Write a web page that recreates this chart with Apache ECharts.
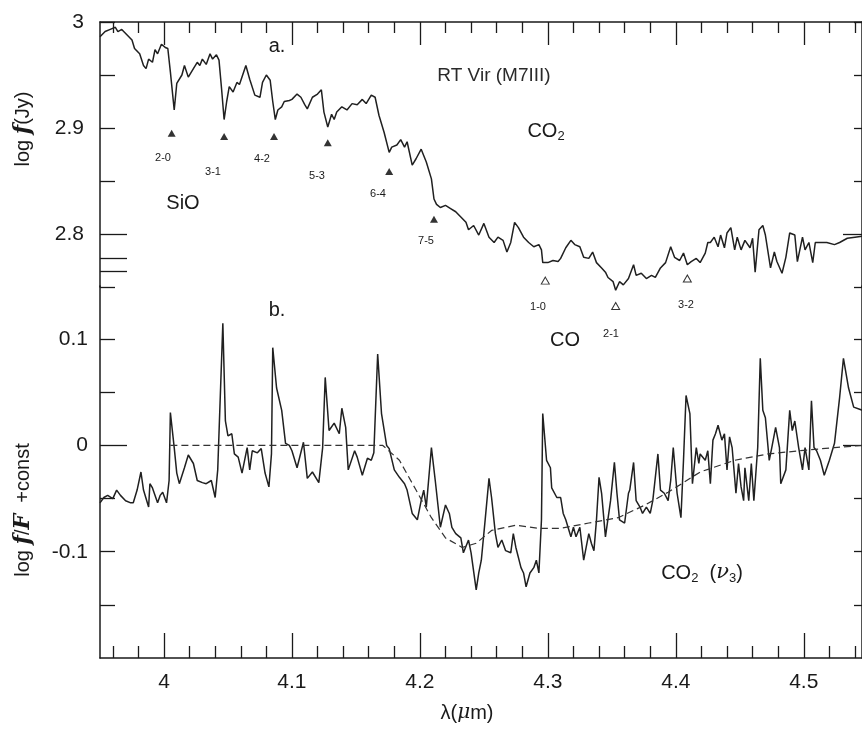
<!DOCTYPE html>
<html>
<head>
<meta charset="utf-8">
<script src="https://cdn.jsdelivr.net/npm/echarts@6/dist/echarts.min.js"></script>
<style>
html, body { margin: 0; padding: 0; background: #fff; }
#chart { width: 862px; height: 729px; }
</style>
</head>
<body>
<div id="chart"></div>
<script>
// panel a: observed spectrum, log f (Jy)
const topWave = [3.950,3.954,3.958,3.962,3.964,3.967,3.971,3.975,3.977,3.981,3.984,3.986,3.988,3.991,3.993,3.995,3.998,4.001,4.003,4.005,
  4.008,4.010,4.014,4.016,4.019,4.023,4.026,4.028,4.030,4.033,4.036,4.038,4.041,4.043,4.045,4.047,4.049,4.051,4.054,4.057,
  4.059,4.064,4.067,4.071,4.075,4.077,4.080,4.083,4.085,4.087,4.089,4.092,4.094,4.098,4.100,4.104,4.107,4.110,4.112,4.116,
  4.120,4.123,4.125,4.128,4.131,4.133,4.135,4.139,4.143,4.147,4.151,4.155,4.158,4.162,4.165,4.168,4.172,4.176,4.178,4.182,
  4.185,4.188,4.190,4.194,4.197,4.201,4.205,4.209,4.211,4.213,4.216,4.220,4.224,4.228,4.232,4.236,4.238,4.242,4.246,4.250,
  4.254,4.258,4.261,4.265,4.268,4.271,4.274,4.277,4.281,4.285,4.289,4.293,4.295,4.296,4.300,4.304,4.308,4.310,4.314,4.318,
  4.321,4.325,4.328,4.332,4.335,4.338,4.342,4.345,4.347,4.351,4.353,4.356,4.359,4.363,4.367,4.369,4.373,4.377,4.381,4.384,
  4.388,4.392,4.396,4.399,4.403,4.406,4.409,4.412,4.416,4.419,4.423,4.425,4.427,4.430,4.433,4.435,4.438,4.440,4.443,4.446,
  4.448,4.451,4.454,4.458,4.460,4.462,4.465,4.468,4.470,4.474,4.477,4.479,4.483,4.486,4.489,4.493,4.495,4.499,4.501,4.504,
  4.507,4.509,4.513,4.518,4.524,4.528,4.534,4.540,4.546];
const topFlux = [2.986,2.991,2.993,2.995,2.991,2.993,2.988,2.983,2.975,2.970,2.959,2.956,2.965,2.962,2.974,2.970,2.979,2.976,2.975,2.953,
  2.917,2.942,2.950,2.959,2.948,2.956,2.962,2.959,2.965,2.960,2.970,2.965,2.969,2.964,2.937,2.908,2.925,2.939,2.934,2.943,
  2.941,2.959,2.946,2.931,2.929,2.943,2.950,2.945,2.925,2.908,2.917,2.920,2.925,2.926,2.927,2.932,2.929,2.922,2.918,2.929,
  2.932,2.936,2.915,2.901,2.913,2.908,2.915,2.920,2.917,2.923,2.922,2.927,2.923,2.931,2.929,2.912,2.896,2.877,2.882,2.884,
  2.889,2.882,2.887,2.865,2.871,2.880,2.868,2.852,2.833,2.828,2.825,2.827,2.824,2.821,2.816,2.811,2.804,2.808,2.799,2.810,
  2.797,2.792,2.797,2.794,2.783,2.792,2.811,2.806,2.797,2.792,2.788,2.790,2.785,2.773,2.773,2.775,2.774,2.777,2.787,2.794,
  2.790,2.788,2.778,2.777,2.783,2.773,2.768,2.764,2.759,2.755,2.747,2.755,2.752,2.758,2.771,2.761,2.763,2.758,2.761,2.759,
  2.768,2.773,2.788,2.778,2.775,2.782,2.771,2.774,2.777,2.773,2.782,2.792,2.792,2.797,2.788,2.799,2.787,2.801,2.806,2.785,
  2.797,2.785,2.794,2.787,2.796,2.764,2.804,2.808,2.799,2.768,2.783,2.774,2.763,2.778,2.801,2.799,2.774,2.797,2.785,2.792,
  2.773,2.792,2.792,2.792,2.790,2.792,2.796,2.797,2.798];

// panel b: log f/F + const
const bottomWave = [3.950,3.953,3.956,3.960,3.963,3.966,3.970,3.974,3.976,3.979,3.982,3.984,3.988,3.989,3.991,3.995,3.997,3.999,4.002,4.004,
  4.005,4.008,4.010,4.012,4.016,4.019,4.023,4.026,4.030,4.033,4.037,4.040,4.042,4.046,4.048,4.050,4.053,4.055,4.058,4.061,
  4.065,4.067,4.069,4.073,4.076,4.079,4.082,4.084,4.085,4.088,4.092,4.095,4.098,4.100,4.104,4.109,4.112,4.116,4.121,4.124,
  4.126,4.129,4.133,4.137,4.139,4.142,4.144,4.149,4.151,4.155,4.159,4.162,4.164,4.167,4.170,4.174,4.176,4.180,4.184,4.188,
  4.190,4.194,4.198,4.201,4.203,4.205,4.209,4.212,4.216,4.220,4.223,4.225,4.228,4.232,4.234,4.238,4.240,4.244,4.246,4.248,
  4.251,4.254,4.256,4.259,4.261,4.264,4.267,4.271,4.273,4.275,4.279,4.281,4.283,4.286,4.289,4.291,4.293,4.295,4.296,4.299,
  4.302,4.303,4.307,4.310,4.312,4.314,4.318,4.320,4.322,4.325,4.328,4.332,4.334,4.336,4.338,4.340,4.342,4.345,4.349,4.352,
  4.354,4.356,4.360,4.363,4.364,4.367,4.369,4.372,4.374,4.377,4.380,4.382,4.386,4.388,4.391,4.394,4.396,4.398,4.401,4.404,
  4.406,4.408,4.411,4.413,4.416,4.418,4.419,4.423,4.425,4.427,4.429,4.431,4.433,4.436,4.438,4.440,4.442,4.444,4.447,4.449,
  4.451,4.453,4.454,4.457,4.459,4.461,4.464,4.466,4.468,4.470,4.473,4.475,4.478,4.481,4.482,4.486,4.489,4.491,4.493,4.496,
  4.499,4.501,4.504,4.506,4.508,4.510,4.513,4.516,4.520,4.524,4.528,4.531,4.535,4.539,4.546];
const bottomFlux = [-0.054,-0.049,-0.047,-0.050,-0.042,-0.047,-0.052,-0.054,-0.054,-0.042,-0.025,-0.042,-0.058,-0.036,-0.040,-0.054,-0.047,-0.044,-0.054,-0.033,
  0.031,-0.002,-0.026,-0.036,-0.021,-0.009,-0.017,-0.033,-0.035,-0.036,-0.033,-0.049,-0.023,0.115,0.023,0.009,0.011,-0.008,-0.011,-0.026,
  -0.002,-0.023,-0.005,-0.007,-0.003,-0.026,-0.039,-0.008,0.092,0.054,0.033,0.002,0.000,-0.005,-0.021,0.003,-0.031,-0.025,-0.035,-0.002,
  0.064,0.014,0.021,0.011,0.035,0.017,-0.023,-0.005,-0.011,-0.028,-0.012,-0.014,-0.007,0.086,0.030,0.000,-0.003,-0.023,-0.030,-0.036,
  -0.042,-0.064,-0.070,-0.052,-0.042,-0.058,-0.002,-0.033,-0.077,-0.056,-0.064,-0.077,-0.083,-0.087,-0.101,-0.089,-0.101,-0.136,-0.120,-0.108,
  -0.070,-0.031,-0.049,-0.083,-0.096,-0.089,-0.099,-0.101,-0.083,-0.096,-0.115,-0.120,-0.133,-0.120,-0.115,-0.108,-0.120,-0.070,0.030,-0.014,
  -0.021,-0.040,-0.049,-0.049,-0.064,-0.070,-0.086,-0.077,-0.086,-0.077,-0.108,-0.083,-0.092,-0.099,-0.070,-0.030,-0.045,-0.086,-0.052,-0.016,
  -0.045,-0.070,-0.073,-0.045,-0.042,-0.016,-0.052,-0.058,-0.064,-0.058,-0.064,-0.052,-0.008,-0.042,-0.045,-0.052,-0.033,-0.002,-0.045,-0.068,
  -0.014,0.047,0.030,-0.036,-0.002,-0.017,-0.008,-0.014,-0.005,-0.036,0.005,0.011,0.019,0.005,0.011,-0.023,0.008,-0.002,-0.045,-0.017,
  -0.039,-0.052,-0.021,-0.052,-0.017,-0.052,-0.002,0.082,0.033,0.026,-0.014,-0.002,0.017,-0.002,-0.036,-0.023,0.033,0.014,0.023,-0.002,
  -0.023,-0.002,-0.023,0.042,-0.002,-0.005,-0.014,-0.028,-0.014,0.002,0.045,0.082,0.054,0.036,0.033];

// dashed continuum in panel b
const contWave = [4.005,4.171,4.184,4.197,4.209,4.220,4.233,4.244,4.256,4.275,4.293,4.310,4.332,4.355,4.376,4.394,4.419,4.446,4.472,4.497,4.524,4.546];
const contFlux = [0.000,0.000,-0.014,-0.042,-0.068,-0.087,-0.096,-0.092,-0.080,-0.075,-0.078,-0.078,-0.073,-0.068,-0.056,-0.044,-0.025,-0.014,-0.008,-0.005,-0.002,0.000];

// band heads
const sioLabels = ['2-0', '3-1', '4-2', '5-3', '6-4', '7-5'];
const sioWave = [4.006, 4.047, 4.086, 4.128, 4.176, 4.211];
const sioFlux = [2.895, 2.892, 2.892, 2.886, 2.859, 2.814];
const coLabels = ['1-0', '2-1', '3-2'];
const coWave = [4.298, 4.353, 4.409];
const coFlux = [2.756, 2.732, 2.758];

// axis ticks
const xMajor = [4.0, 4.1, 4.2, 4.3, 4.4, 4.5];
const xMinor = [];
for (let i = 198; i <= 227; i++) {
  if (i % 5 !== 0) xMinor.push(+(i * 0.02).toFixed(2));
}
const topTicks = [2.75, 2.85, 2.9, 2.95, 3.0];
const topLabels = [2.8, 2.9, 3.0];
const topLongTicks = [2.8, 2.777, 2.765];
const botTicks = [-0.15, -0.1, -0.05, 0.05, 0.1];
const botLabels = [-0.1, 0, 0.1];

const zip = (a, b) => a.map((v, i) => [v, b[i]]);

const SANS = '"Liberation Sans", Arial, sans-serif';
const SERIF = '"DejaVu Serif", "Liberation Serif", serif';
const INK = '#1a1a1a';
const X_MIN = 3.95, X_MAX = 4.5455;

function xAx(grid, pos, ticks, len, opts) {
  return Object.assign({
    type: 'value', gridIndex: grid, position: pos, min: X_MIN, max: X_MAX,
    axisLine: { show: true, onZero: false, lineStyle: { color: INK, width: 1.5 } },
    axisTick: { show: true, inside: true, length: len, customValues: ticks, lineStyle: { color: INK, width: 1.3 } },
    axisLabel: { show: false },
    splitLine: { show: false }
  }, opts || {});
}
function yAx(grid, pos, min, max, ticks, len, opts) {
  return Object.assign({
    type: 'value', gridIndex: grid, position: pos, min: min, max: max,
    axisLine: { show: true, onZero: false, lineStyle: { color: INK, width: 1.5 } },
    axisTick: { show: true, inside: true, length: len, customValues: ticks, lineStyle: { color: INK, width: 1.3 } },
    axisLabel: { show: false },
    splitLine: { show: false }
  }, opts || {});
}
const labelStyle = (vals, margin) => ({
  show: true, customValues: vals, margin: margin, color: INK, fontSize: 21, fontFamily: SANS
});

const txt = (x, y, text, size, extra, rot) => ({
  type: 'text', x: x, y: y, rotation: rot || 0, silent: true,
  style: Object.assign({ text: text, fill: INK, fontSize: size, fontFamily: SANS, align: 'center', verticalAlign: 'middle' }, extra || {})
});

const bandLabelPos = [[163, 158], [213, 172], [262, 159], [317, 176], [378, 194], [426, 241]];
const coLabelPos = [[538, 307], [611, 334], [686, 305]];

const nameRich = {
  n: { fontSize: 20, fontFamily: SANS, fill: INK },
  f: { fontSize: 22, fontStyle: 'italic', fontWeight: 'bold', fontFamily: SERIF, fill: INK }
};
const subRich = {
  n: { fontSize: 20, fontFamily: SANS, fill: INK },
  s: { fontSize: 13, fontFamily: SANS, fill: INK, padding: [10, 0, 0, 0] },
  v: { fontSize: 21, fontStyle: 'italic', fontFamily: SERIF, fill: INK }
};

const graphics = [
  txt(23, 129, '{n|log }{f|f}{n|(Jy)}', 20, { rich: nameRich }, Math.PI / 2),
  txt(23, 510, '{n|log }{f|f}{n|/}{f|F}{n|  +const}', 20, { rich: nameRich }, Math.PI / 2),
  txt(467, 713, '{n|λ(}{m|μ}{n|m)}', 20, {
    rich: { n: { fontSize: 20, fontFamily: SANS, fill: INK }, m: { fontSize: 20, fontStyle: 'italic', fontFamily: SERIF, fill: INK } }
  }),
  txt(277, 46, 'a.', 20),
  txt(277, 310, 'b.', 20),
  txt(494, 76, 'RT Vir (M7III)', 19, { fill: '#2a2a2a' }),
  txt(546, 131, '{n|CO}{s|2}', 20, { rich: subRich }),
  txt(183, 203, 'SiO', 20),
  txt(565, 340, 'CO', 20),
  txt(702, 573, '{n|CO}{s|2}{n|  (}{v|ν}{s|3}{n|)}', 20, { rich: subRich })
];
sioLabels.forEach((s, i) => graphics.push(txt(bandLabelPos[i][0], bandLabelPos[i][1], s, 11)));
coLabels.forEach((s, i) => graphics.push(txt(coLabelPos[i][0], coLabelPos[i][1], s, 11)));

const chart = echarts.init(document.getElementById('chart'), null, { renderer: 'canvas' });
chart.setOption({
  animation: false,
  backgroundColor: '#fff',
  grid: [
    { left: 100, right: -3, top: 22, height: 265 },
    { left: 100, right: -3, top: 286, height: 372 }
  ],
  xAxis: [
    xAx(0, 'top', xMajor, 23),
    xAx(0, 'top', xMinor, 11, { axisLine: { show: false, onZero: false } }),
    xAx(1, 'bottom', xMajor, 25, { axisLabel: labelStyle(xMajor, 14) }),
    xAx(1, 'bottom', xMinor, 12, { axisLine: { show: false, onZero: false } })
  ],
  yAxis: [
    yAx(0, 'left', 2.75, 3.0, topTicks, 15, { axisLabel: labelStyle(topLabels, 16) }),
    yAx(0, 'left', 2.75, 3.0, topLongTicks, 27, { axisLine: { show: false, onZero: false } }),
    yAx(0, 'right', 2.75, 3.0, topTicks, 8),
    yAx(0, 'right', 2.75, 3.0, [2.8], 19, { axisLine: { show: false, onZero: false } }),
    yAx(1, 'left', -0.2, 0.15, botTicks, 15, { axisLabel: labelStyle(botLabels, 12) }),
    yAx(1, 'left', -0.2, 0.15, [0], 27, { axisLine: { show: false, onZero: false } }),
    yAx(1, 'right', -0.2, 0.15, botTicks, 8),
    yAx(1, 'right', -0.2, 0.15, [0], 19, { axisLine: { show: false, onZero: false } })
  ],
  series: [
    {
      type: 'line', xAxisIndex: 0, yAxisIndex: 0, data: zip(topWave, topFlux),
      showSymbol: false, clip: false, lineStyle: { color: '#202020', width: 1.5 }
    },
    {
      type: 'line', xAxisIndex: 2, yAxisIndex: 4, data: zip(bottomWave, bottomFlux),
      showSymbol: false, clip: false, lineStyle: { color: '#202020', width: 1.5 }
    },
    {
      type: 'line', xAxisIndex: 2, yAxisIndex: 4, data: zip(contWave, contFlux),
      showSymbol: false, lineStyle: { color: '#333', width: 1.2, type: [7, 4] }
    },
    {
      type: 'scatter', xAxisIndex: 0, yAxisIndex: 0, data: zip(sioWave, sioFlux), clip: false,
      symbol: 'triangle', symbolSize: [8, 7], itemStyle: { color: '#000' }
    },
    {
      type: 'scatter', xAxisIndex: 0, yAxisIndex: 0, data: zip(coWave, coFlux), clip: false,
      symbol: 'triangle', symbolSize: [8, 7], itemStyle: { color: '#fff', borderColor: '#000', borderWidth: 1 }
    }
  ],
  graphic: graphics
});
</script>
</body>
</html>
